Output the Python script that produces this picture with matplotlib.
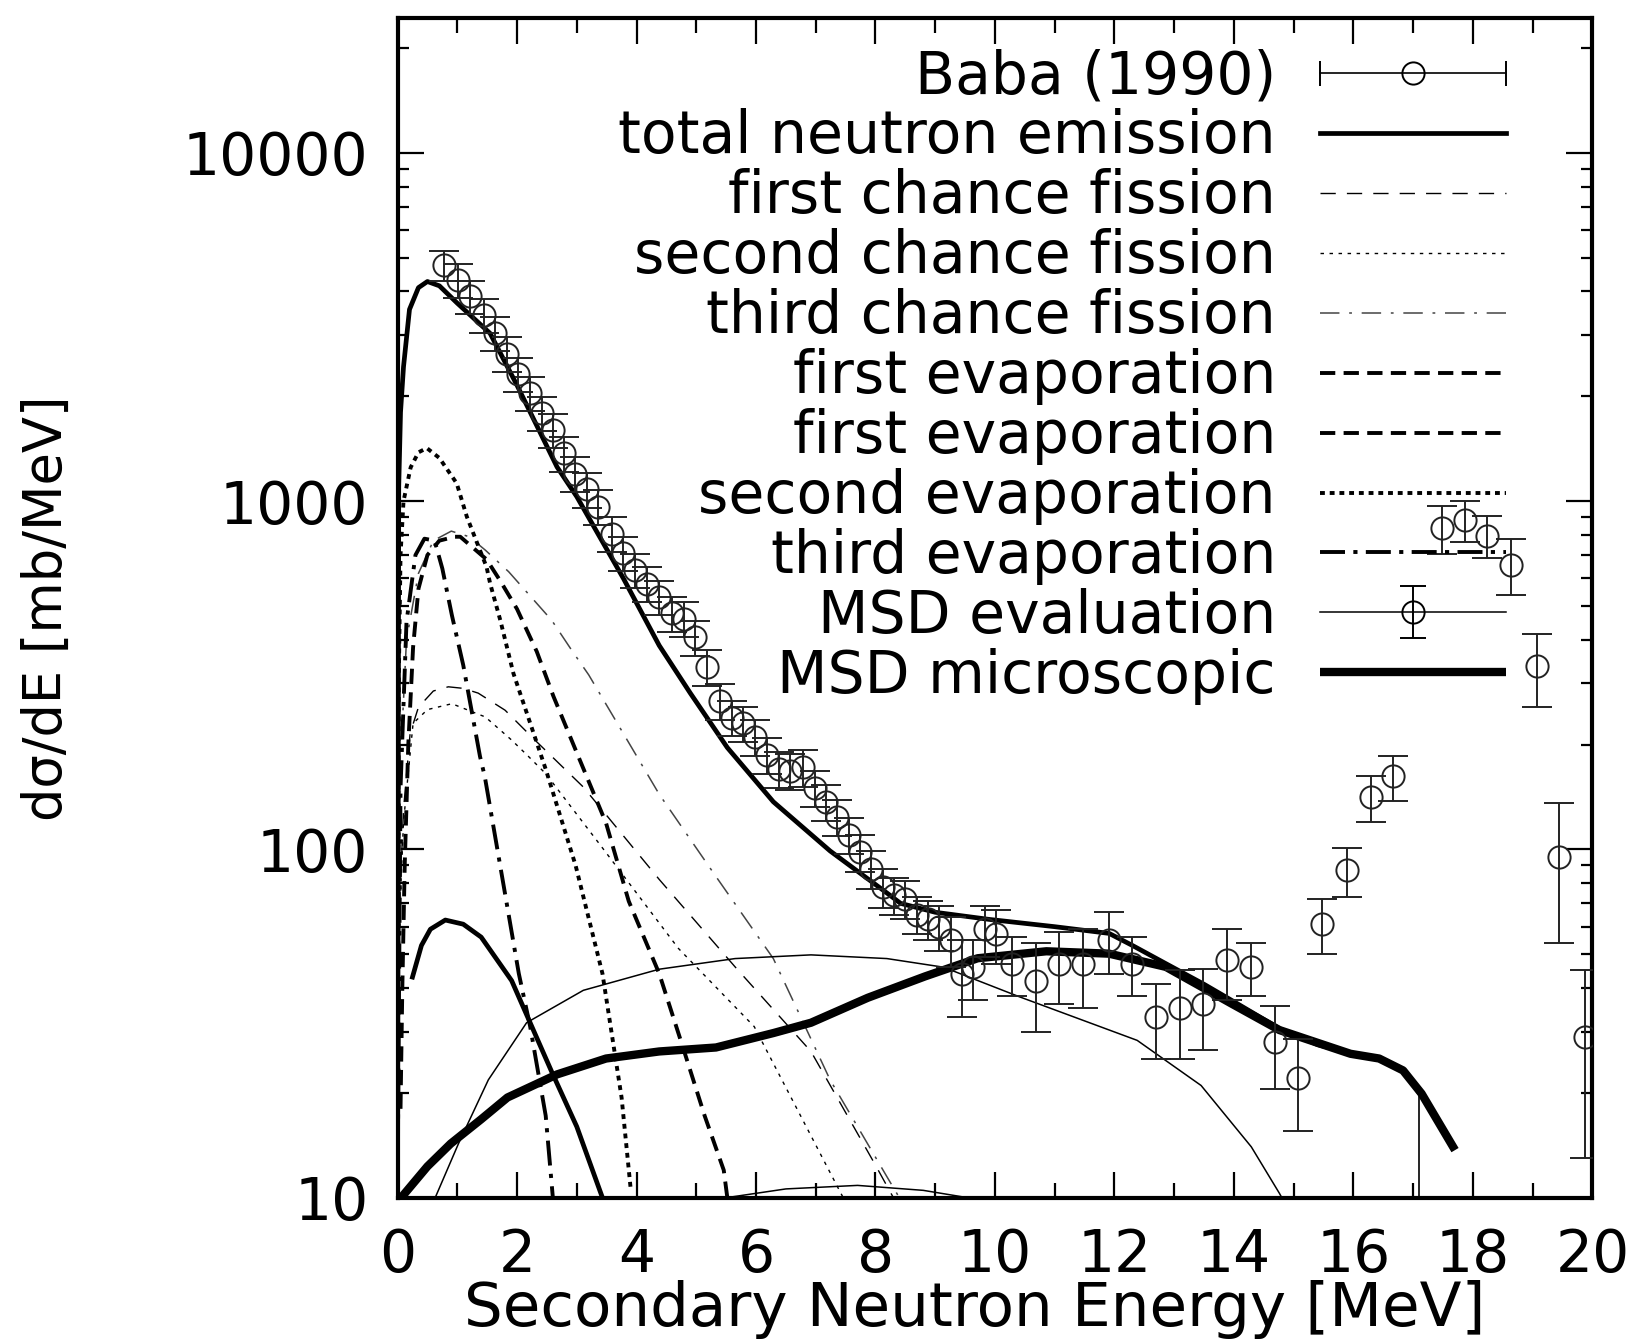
import numpy as np
import matplotlib
matplotlib.use("Agg")
import matplotlib.pyplot as plt
from matplotlib.lines import Line2D
from matplotlib.path import Path
from matplotlib.legend_handler import HandlerLine2D
from matplotlib.ticker import MultipleLocator, LogLocator, NullFormatter

plt.rcParams["font.family"] = ["DejaVu Sans"]
plt.rcParams["lines.scale_dashes"] = False

# --- Baba (1990) measurement ---
baba_E = [0.77, 1.02, 1.21, 1.44, 1.63, 1.83, 2.02, 2.22, 2.41, 2.61, 2.78, 2.97, 3.17,
          3.36, 3.59, 3.78, 3.98, 4.17, 4.37, 4.59, 4.79, 4.98, 5.18, 5.40, 5.59, 5.78,
          5.98, 6.19, 6.38, 6.57, 6.78, 6.98, 7.17, 7.36, 7.55, 7.74, 7.93, 8.12, 8.31,
          8.50, 8.69, 8.88, 9.07, 9.26, 9.45, 9.64, 9.83, 10.02, 10.28, 10.68, 11.07,
          11.47, 11.91, 12.30, 12.70, 13.10, 13.49, 13.89, 14.29, 14.68, 15.08, 15.48,
          15.90, 16.29, 16.67, 17.48, 17.86, 18.23, 18.63, 19.07, 19.44, 19.88]
baba_v = [4760, 4310, 3870, 3420, 3030, 2650, 2320, 2040, 1790, 1600, 1370, 1200, 1080,
          964, 807, 708, 634, 580, 531, 476, 460, 407, 334, 267, 239, 230,
          210, 187, 170, 168, 172, 150, 137, 124, 110, 98, 88, 78, 74,
          72, 65, 63, 60, 55, 44, 46, 59, 57, 47, 42, 47,
          47, 55, 47, 33, 35, 36, 48, 46, 28, 22, 61,
          87, 141, 162, 835, 883, 796, 656, 336, 95, 29]
baba_err = [480, 470, 420, 380, 340, 300, 260, 230, 200, 180, 155, 135, 122,
            110, 92, 80, 72, 66, 60, 55, 53, 47, 39, 31, 28, 27,
            25, 22, 20, 20, 21, 18, 16, 15, 13, 12, 11, 10, 9,
            9, 8, 8, 9, 9, 11, 9, 10, 10, 9, 12, 11,
            12, 11, 9, 8, 10, 9.5, 11, 8, 7.5, 6.5, 11,
            14, 21, 24, 130, 120, 110, 120, 80, 41, 16]

# --- model curves ---
total_E = [0.0, 0.02, 0.05, 0.1, 0.2, 0.35, 0.5, 0.7, 1.0, 1.55, 2.0, 2.67, 3.0, 3.78,
           4.38, 4.9, 5.52, 6.29, 7.24, 8.19, 8.42, 9.0, 9.89, 11.0, 11.91, 12.3,
           12.86, 13.5, 13.97, 14.76, 15.4, 15.95, 16.43, 16.83, 17.1]
total_v = [10, 1100, 1800, 2430, 3550, 4100, 4270, 4150, 3700, 3030, 2150, 1253, 1030, 600,
           385, 281, 196, 137, 99, 75, 70, 66, 63, 60, 57.4, 53,
           47, 41, 36.8, 30.6, 27.5, 26, 25.2, 23.3, 20]
drop_E = [17.1, 17.1]
drop_v = [20, 1]

fis1_E = [0.0, 0.02, 0.05, 0.1, 0.21, 0.35, 0.6, 0.85, 1.1, 1.35, 1.8, 2.3, 3.11, 4.38,
          5.65, 6.92, 8.0, 8.3]
fis1_v = [10, 45, 80, 130, 215, 256, 285, 293, 290, 281, 251, 206, 151, 82,
          46, 26.3, 12.4, 10]
fis2_E = [0.0, 0.02, 0.05, 0.1, 0.26, 0.5, 0.91, 1.47, 1.91, 2.19, 2.48, 3.43, 4.70,
          5.97, 7.37, 7.6]
fis2_v = [10, 40, 75, 120, 230, 252, 262, 240, 206, 185, 165, 101, 52,
          31, 10.7, 9]
fis3_E = [0.0, 0.05, 0.15, 0.35, 0.6, 0.9, 1.2, 1.47, 1.86, 2.58, 2.92, 3.2, 4.38,
          5.3, 6.29, 7.24, 8.19, 8.4]
fis3_v = [10, 180, 400, 620, 770, 820, 790, 723, 627, 455, 372, 317, 144,
          85, 48.6, 21.8, 11.5, 10]

evap1_E = [0.05, 0.08, 0.12, 0.18, 0.26, 0.35, 0.5, 0.7, 0.96, 1.05, 1.49, 1.72, 2.0,
           2.33, 2.61, 2.97, 3.49, 3.87, 4.38, 4.76, 5.14, 5.46, 5.52]
evap1_v = [18, 40, 90, 200, 380, 560, 700, 770, 790, 790, 680, 590, 490,
           370, 275, 195, 119, 71, 44, 27.6, 17.2, 12, 10]
evap2_E = [0.0, 0.02, 0.05, 0.1, 0.22, 0.35, 0.49, 0.7, 0.99, 1.16, 1.27, 1.49, 1.55,
           1.72, 1.94, 2.48, 2.98, 3.43, 3.75, 3.9]
evap2_v = [10, 300, 700, 1000, 1250, 1380, 1420, 1330, 1125, 902, 807, 647, 580,
           455, 320, 170, 90, 44, 19.4, 10.7]
evap3_E = [0.0, 0.05, 0.15, 0.3, 0.45, 0.62, 0.75, 0.91, 1.1, 1.38, 1.46, 1.78, 2.03,
           2.22, 2.48, 2.6]
evap3_v = [10, 150, 450, 700, 780, 770, 640, 470, 338, 185, 162, 78, 44,
           31, 17.2, 10]
hump_E = [0.25, 0.4, 0.55, 0.8, 1.1, 1.4, 1.91, 2.58, 3.0, 3.43]
hump_v = [43, 53, 59, 62.7, 61, 56, 42, 23, 16, 10]

msd_eval_E = [0.63, 1.02, 1.52, 2.16, 3.11, 4.38, 5.65, 6.92, 8.19, 9.14, 10.4, 12.38,
              13.45, 14.29, 14.76, 14.95]
msd_eval_v = [10, 14.3, 21.8, 31.8, 39.4, 45.3, 48.6, 49.8, 48.6, 45.9, 37.8, 28.3,
              21, 14, 10.3, 9]
msd_low_E = [5.5, 6.5, 7.7, 8.8, 9.7]
msd_low_v = [10, 10.6, 10.85, 10.5, 9.9]
msd_mic_E = [0.0, 0.06, 0.5, 0.89, 1.4, 1.84, 2.67, 3.49, 4.38, 5.33, 6.29, 6.92, 7.87,
             8.83, 9.71, 10.86, 11.91, 12.86, 13.97, 14.76, 15.95, 16.43, 16.83, 17.14,
             17.7]
msd_mic_v = [9.5, 10, 12.3, 14.3, 16.8, 19.4, 22.6, 25.1, 26.3, 27, 29.7, 31.8, 37.5,
             43.2, 48.7, 51, 50.2, 46, 36, 30.3, 25.9, 25.1, 23.2, 19.9, 13.7]

K = "black"
fig = plt.figure(figsize=(16.4, 13.42), dpi=100)
ax = fig.add_axes([0.2424, 0.1075, 0.7286, 0.8792])
ax.set_yscale("log")

l_total, = ax.plot(total_E, total_v, color=K, lw=3.4, label="total neutron emission")
ax.plot(drop_E, drop_v, color=K, lw=1.2)
l_f1, = ax.plot(fis1_E, fis1_v, color=K, lw=1.0, dashes=(11, 8), label="first chance fission")
l_f2, = ax.plot(fis2_E, fis2_v, color=K, lw=1.0, dashes=(2.5, 4), label="second chance fission")
l_f3, = ax.plot(fis3_E, fis3_v, color="#444444", lw=1.1, dashes=(14, 7, 2, 7),
                label="third chance fission")
l_e1, = ax.plot(evap1_E, evap1_v, color=K, lw=2.8, dashes=(11, 6), label="first evaporation")
l_e2, = ax.plot(evap2_E, evap2_v, color=K, lw=2.8, dashes=(3.5, 3.5), label="second evaporation")
l_e3, = ax.plot(evap3_E, evap3_v, color=K, lw=2.8, dashes=(18, 6, 3, 6), label="third evaporation")
ax.plot(hump_E, hump_v, color=K, lw=3.4)
l_me, = ax.plot(msd_eval_E, msd_eval_v, color=K, lw=1.1)
ax.plot(msd_low_E, msd_low_v, color=K, lw=1.1)
l_mm, = ax.plot(msd_mic_E, msd_mic_v, color=K, lw=6.0, solid_capstyle="butt",
                label="MSD microscopic")
ax.errorbar(baba_E, baba_v, yerr=baba_err, fmt="o", ms=16, mfc="none", mec="#222222",
            mew=1.4, ecolor="#222222", elinewidth=1.4, capsize=11, capthick=1.4, zorder=5)

ax.set_xlim(0, 20)
ax.set_ylim(10, 24400)
ax.set_yticks([10, 100, 1000, 10000])
ax.set_yticklabels(["10", "100", "1000", "10000"])
ax.yaxis.set_minor_locator(LogLocator(base=10, subs=np.arange(2, 10)))
ax.yaxis.set_minor_formatter(NullFormatter())
ax.xaxis.set_major_locator(MultipleLocator(2))
ax.xaxis.set_minor_locator(MultipleLocator(1))
ax.tick_params(which="both", direction="in", top=True, right=True, width=1.6, colors=K)
ax.tick_params(which="major", length=19, pad=21, labelsize=42)
ax.tick_params(axis="x", which="minor", length=11)
ax.tick_params(axis="y", which="minor", length=8)
for s in ax.spines.values():
    s.set_linewidth(3.0)

ax.set_xlabel("Secondary Neutron Energy [MeV]", fontsize=44, va="baseline")
ax.xaxis.set_label_coords(0.483, -0.1085)
ax.set_ylabel("dσ/dE [mb/MeV]", fontsize=38)
ax.yaxis.set_label_coords(-0.272, 0.5)

# legend handles (gnuplot style keys)
ibeam = Path([(-0.5, 1), (0.5, 1), (0, 1), (0, -1), (-0.5, -1), (0.5, -1)],
             [Path.MOVETO, Path.LINETO, Path.MOVETO, Path.LINETO, Path.MOVETO, Path.LINETO])
baba_bar = Line2D([], [], color=K, lw=1.2, marker="|", ms=18, mew=1.4)
baba_dot = Line2D([], [], ls="none", marker="o", ms=16, mfc="none", mec=K, mew=1.4)
me_line = Line2D([], [], color=K, lw=1.1)
me_dot = Line2D([], [], ls="none", marker="o", ms=16, mfc="none", mec=K, mew=1.4)
me_bar = Line2D([], [], ls="none", marker=ibeam, ms=38, mew=1.4, mec=K)
e1_dup = Line2D([], [], color=K, lw=2.8, dashes=(11, 6))

handles = [(baba_bar, baba_dot), l_total, l_f1, l_f2, l_f3, l_e1, e1_dup, l_e2, l_e3,
           (me_line, me_dot, me_bar), l_mm]
labels = ["Baba (1990)", "total neutron emission", "first chance fission",
          "second chance fission", "third chance fission", "first evaporation",
          "first evaporation", "second evaporation", "third evaporation",
          "MSD evaluation", "MSD microscopic"]
ax.legend(handles, labels, loc="upper right", bbox_to_anchor=(0.928, 0.974),
          frameon=False, markerfirst=False, fontsize=42, handlelength=3.2,
          handletextpad=0.75, labelspacing=0.05, borderpad=0, borderaxespad=0,
          handler_map={baba_bar: HandlerLine2D(numpoints=2, marker_pad=0)})

fig.savefig("out.png", dpi=100)
